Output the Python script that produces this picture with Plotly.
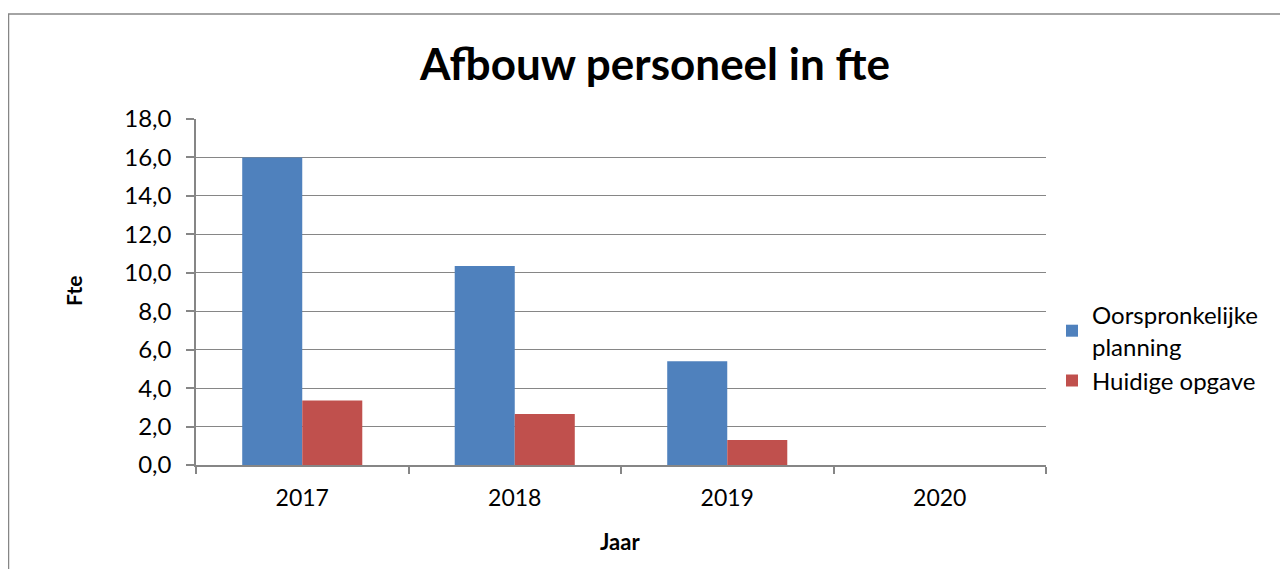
import plotly.graph_objects as go

years = ["2017", "2018", "2019", "2020"]
oorspronkelijke = [16.0, 10.35, 5.4, 0.0]
huidige = [3.35, 2.65, 1.3, 0.0]
y_ticks = [0, 2, 4, 6, 8, 10, 12, 14, 16, 18]

FONT = "Lato"
GRID = "#868686"

fig = go.Figure()
fig.add_trace(go.Bar(x=years, y=oorspronkelijke, name="Oorspronkelijke<br>planning",
                     marker=dict(color="#4F81BD", line=dict(width=0))))
fig.add_trace(go.Bar(x=years, y=huidige, name="Huidige opgave",
                     marker=dict(color="#C0504D", line=dict(width=0))))

OFF = 8  # page body margin
L, R, T, B = 196 - OFF, 1046 - OFF, 119 - OFF, 465 - OFF
W, H = 1288, 569
pw, ph = R - L, B - T

def px_x(p):
    return (p - OFF - L) / pw

def px_y(p):
    return (B - (p - OFF)) / ph

fig.update_layout(
    width=W, height=H,
    margin=dict(l=L, r=W - R, t=T, b=H - B, pad=0),
    paper_bgcolor="white", plot_bgcolor="white",
    separators=",.",
    barmode="group", bargap=0.435, bargroupgap=0,
    font=dict(family=FONT, size=24, color="black"),
    showlegend=True,
    legend=dict(x=px_x(1052), y=px_y(348), xanchor="left", yanchor="middle",
                font=dict(family=FONT, size=24, color="black"),
                bgcolor="rgba(0,0,0,0)", tracegroupgap=6, itemwidth=30),
    xaxis=dict(showline=True, linecolor=GRID, linewidth=1.5,
               ticks="outside", tickson="boundaries", ticklen=7, tickcolor=GRID, tickwidth=1.5,
               ticklabelstandoff=12,
               tickfont=dict(family=FONT, size=23, color="black"), showgrid=False,
               fixedrange=True),
    yaxis=dict(range=[0, 18], tickvals=y_ticks, tickformat=".1f",
               showline=True, linecolor=GRID, linewidth=1.5,
               ticks="outside", ticklen=8, tickcolor=GRID, tickwidth=1.5,
               ticklabelstandoff=10,
               showgrid=True, gridcolor=GRID, gridwidth=1.3, zeroline=False,
               tickfont=dict(family=FONT, size=24, color="black"), fixedrange=True),
    annotations=[
        dict(text="<b>Afbouw personeel in fte</b>", xref="paper", yref="paper",
             x=px_x(654), y=px_y(63), xanchor="center", yanchor="middle", showarrow=False,
             font=dict(family=FONT, size=44, color="black")),
        dict(text="<b>Jaar</b>", xref="paper", yref="paper",
             x=px_x(620), y=px_y(541), xanchor="center", yanchor="middle", showarrow=False,
             font=dict(family=FONT, size=22, color="black")),
        dict(text="<b>Fte</b>", xref="paper", yref="paper", textangle=-90,
             x=px_x(73), y=px_y(291), xanchor="center", yanchor="middle", showarrow=False,
             font=dict(family=FONT, size=21, color="black")),
    ],
    shapes=[
        dict(type="rect", xref="paper", yref="paper",
             x0=px_x(8.5), x1=px_x(1320), y0=px_y(14), y1=px_y(620),
             line=dict(color=GRID, width=1.5), layer="below"),
    ],
)

fig.write_html("out.html")
